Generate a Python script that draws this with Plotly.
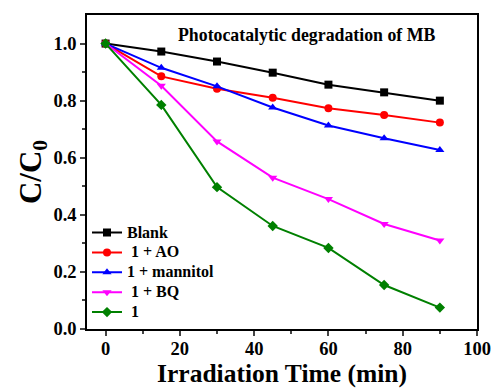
import plotly.graph_objects as go

time = [0, 15, 30, 45, 60, 75, 90]
blank = [1.0, 0.972, 0.937, 0.898, 0.856, 0.829, 0.800]
ao = [1.0, 0.885, 0.842, 0.810, 0.773, 0.750, 0.723]
mannitol = [1.0, 0.915, 0.850, 0.776, 0.713, 0.668, 0.627]
bq = [1.0, 0.852, 0.657, 0.530, 0.455, 0.368, 0.310]
cat1 = [1.0, 0.785, 0.497, 0.361, 0.284, 0.154, 0.075]

names = ["Blank", " 1 + AO", "1 + mannitol", " 1 + BQ", " 1"]
series = [blank, ao, mannitol, bq, cat1]
colors = ["#000000", "#ff0000", "#0000ff", "#ff00ff", "#008000"]
symbols = ["square", "circle", "triangle-up", "triangle-down", "diamond"]

fig = go.Figure()
for n, s, c, m in zip(names, series, colors, symbols):
    fig.add_trace(go.Scatter(x=time, y=s,
                             name='<span style="font-size:16px"><b>' + n + "</b></span>",
                             mode="lines+markers",
                             line=dict(color=c, width=2),
                             marker=dict(symbol=m, size=8, color=c)))

font = "Liberation Serif"
fig.update_layout(
    width=495, height=388,
    margin=dict(l=87, r=18, t=15, b=59, autoexpand=False),
    paper_bgcolor="white", plot_bgcolor="white",
    font=dict(family=font, color="black"),
    showlegend=True,
    legend=dict(x=0.0, y=0.355, xanchor="left", yanchor="top",
                font=dict(size=13, family=font),
                bgcolor="rgba(0,0,0,0)", tracegroupgap=0, itemwidth=30,
                borderwidth=0),
    annotations=[dict(text="<b>Photocatalytic degradation of MB</b>", x=0.563, y=0.975,
                      xref="paper", yref="paper", xanchor="center", yanchor="top",
                      showarrow=False, font=dict(size=17.8, family=font))],
)
fig.update_xaxes(range=[-5, 100], tickvals=[0, 20, 40, 60, 80, 100],
                 ticktext=["<b>%d</b>" % v for v in [0, 20, 40, 60, 80, 100]],
                 ticks="outside", ticklen=5, tickwidth=1.5,
                 minor=dict(tickvals=[10, 30, 50, 70, 90], ticks="outside", ticklen=3),
                 showline=True, linecolor="black", linewidth=1.5, mirror=True,
                 showgrid=False, zeroline=False, automargin=False,
                 ticklabelstandoff=-3,
                 tickfont=dict(size=18.5, family=font),
                 title=dict(text="<b>Irradiation Time (min)</b>", font=dict(size=25.5, family=font), standoff=6))
fig.update_yaxes(range=[0, 1.1], tickvals=[0, 0.2, 0.4, 0.6, 0.8, 1.0],
                 ticktext=["<b>%.1f</b>" % v for v in [0, 0.2, 0.4, 0.6, 0.8, 1.0]],
                 ticks="outside", ticklen=5, tickwidth=1.5,
                 minor=dict(tickvals=[0.1, 0.3, 0.5, 0.7, 0.9], ticks="outside", ticklen=3),
                 showline=True, linecolor="black", linewidth=1.5, mirror=True,
                 showgrid=False, zeroline=False, automargin=False,
                 tickfont=dict(size=18.5, family=font),
                 title=dict(text="<b>C/C<sub>0</sub></b>", font=dict(size=31, family=font), standoff=3))
fig.write_html("out.html", config={"displayModeBar": False},
               post_script="document.body.style.margin='0px';document.body.style.overflow='hidden';")
